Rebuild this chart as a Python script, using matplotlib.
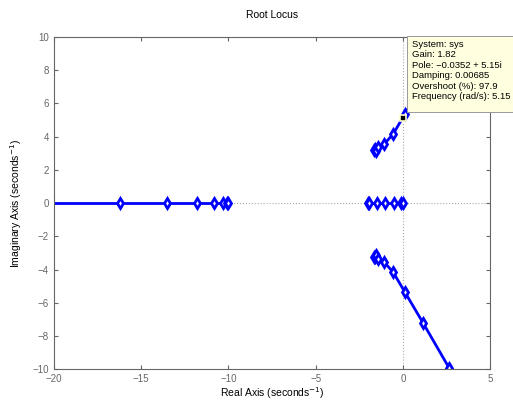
import numpy as np
import matplotlib.pyplot as plt
from matplotlib.patches import Rectangle

plt.rcParams['font.family'] = ['Liberation Sans', 'DejaVu Sans']

# left branch on the real axis
left_re = [-20.0, -16.2, -13.5, -11.8, -10.85, -10.3, -10.1, -10.0]
left_mk = [-16.2, -13.5, -11.8, -10.85, -10.3, -10.1, -10.0]
# segment between the two poles near the origin
mid_re = [-2.0, -1.95, -1.5, -1.03, -0.5, -0.1, 0.0]
# complex branch (upper half, lower half is mirrored)
br_re = [-1.68, -1.62, -1.55, -1.45, -1.09, -0.57, 0.1, 1.15, 2.64]
br_im = [3.22, 3.27, 3.13, 3.35, 3.55, 4.16, 5.36, 7.23, 9.94]

tip_re, tip_im = -0.0352, 5.15
tip_text = ("System: sys\nGain: 1.82\nPole: \u22120.0352 + 5.15i\n"
            "Damping: 0.00685\nOvershoot (%): 97.9\nFrequency (rad/s): 5.15")

blue = '#0000ff'
grey = '#666666'

fig = plt.figure(figsize=(5.13, 4.03), dpi=100)
ax = fig.add_axes([0.105, 0.084, 0.851, 0.824])

ax.axhline(0, color='#aaaaaa', ls=':', lw=0.8, zorder=0)
ax.axvline(0, color='#aaaaaa', ls=':', lw=0.8, zorder=0)

mk = dict(marker='d', ms=5.5, mfc='white', mec=blue, mew=2)
ax.plot(left_re, np.zeros(len(left_re)), color=blue, lw=2)
ax.plot(left_mk, np.zeros(len(left_mk)), ls='none', **mk)
ax.plot(mid_re, np.zeros(len(mid_re)), color=blue, lw=2, **mk)
ax.plot(br_re, br_im, color=blue, lw=2, **mk)
ax.plot(br_re, [-v for v in br_im], color=blue, lw=2, **mk)

ax.plot([tip_re], [tip_im], marker='s', ms=5, color='black', mec='#ffffcc', mew=1.2, zorder=5)

# data tip box, running off the right edge of the figure
fig.patches.append(Rectangle((407 / 513, 1 - 112 / 403), 0.3, 76 / 403,
                             transform=fig.transFigure, fc='#ffffe0', ec='#999999',
                             lw=0.7, zorder=6))
fig.text(412 / 513, 1 - 40 / 403, tip_text, fontsize=6.8, va='top', ha='left',
         linespacing=1.2, zorder=7)

ax.set_xlim(-20, 5)
ax.set_ylim(-10, 10)
ax.set_xticks(np.arange(-20, 6, 5))
ax.set_yticks(np.arange(-10, 11, 2))
ax.set_xticklabels(['\u221220', '\u221215', '\u221210', '\u22125', '0', '5'])
ax.set_yticklabels([('\u2212' + str(-v)) if v < 0 else str(v) for v in range(-10, 11, 2)])
ax.tick_params(direction='in', labelsize=7, colors=grey, labelcolor=grey, length=3,
               top=True, right=True)
for s in ax.spines.values():
    s.set_color(grey)
ax.set_title('Root Locus', fontsize=7.5, pad=14)
ax.set_xlabel('Real Axis (seconds$^{-1}$)', fontsize=7.5, labelpad=1)
ax.set_ylabel('Imaginary Axis (seconds$^{-1}$)', fontsize=7.5, labelpad=6)

fig.savefig('out.png', dpi=100)
